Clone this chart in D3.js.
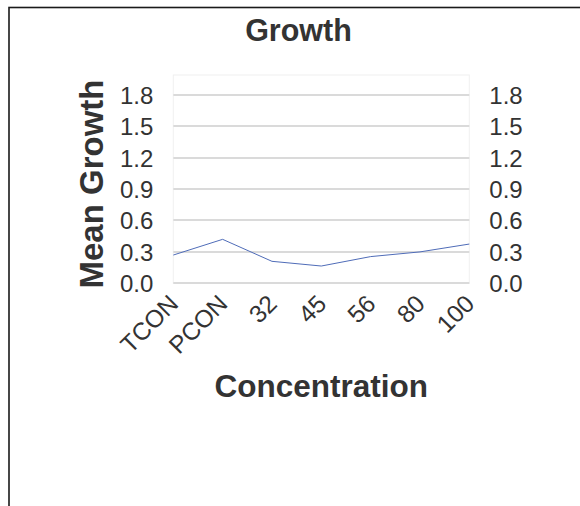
<!DOCTYPE html>
<html><head><meta charset="utf-8">
<script src="https://cdn.jsdelivr.net/npm/d3@7"></script>
<style>html,body{margin:0;padding:0;background:#fff;}svg{display:block;}</style>
</head><body><svg id="c" width="580" height="506"></svg>
<script>
const categories = ["TCON","PCON","32","45","56","80","100"];
const meanGrowth = [0.27, 0.42, 0.21, 0.165, 0.255, 0.30, 0.375];
const yTicks = [0.0, 0.3, 0.6, 0.9, 1.2, 1.5, 1.8];
const chartTitle = "Growth";
const xTitle = "Concentration";
const yTitle = "Mean Growth";

const svg = d3.select("#c");
const font = "'Liberation Sans', Arial, sans-serif";
const L = 173.3, R = 469.3, T = 75, B = 283.3;

// outer frame
svg.append("rect").attr("x",9).attr("y",7.5).attr("width",620).attr("height",620)
  .attr("fill","#fff").attr("stroke","#1a1a1a").attr("stroke-width",1.6);

const x = d3.scalePoint().domain(categories).range([L,R]).padding(0);
const y = d3.scaleLinear().domain([0,1.99]).range([B,T]);

// plot background
svg.append("rect").attr("x",L).attr("y",T).attr("width",R-L).attr("height",B-T)
  .attr("fill","#fff").attr("stroke","#f0f0f0").attr("stroke-width",1);

// gridlines
svg.append("g").selectAll("line").data(yTicks).join("line")
  .attr("x1",L).attr("x2",R).attr("y1",d=>Math.round(y(d))).attr("y2",d=>Math.round(y(d)))
  .attr("stroke","#dadada").attr("stroke-width",2);

// left axis
const la = svg.append("g").attr("transform",`translate(${L-20},0)`)
  .call(d3.axisLeft(y).tickValues(yTicks).tickFormat(d3.format(".1f")).tickSize(0).tickPadding(0));
la.select(".domain").remove();
la.selectAll("text").attr("font-family",font).attr("font-size",24).attr("fill","#333").attr("dy","0.35em");

// right axis
const ra = svg.append("g").attr("transform",`translate(${R+20},0)`)
  .call(d3.axisRight(y).tickValues(yTicks).tickFormat(d3.format(".1f")).tickSize(0).tickPadding(0));
ra.select(".domain").remove();
ra.selectAll("text").attr("font-family",font).attr("font-size",24).attr("fill","#333").attr("dy","0.35em");

// bottom axis
const ba = svg.append("g").attr("transform",`translate(0,${B})`)
  .call(d3.axisBottom(x).tickSize(0).tickPadding(0));
ba.select(".domain").remove();
ba.selectAll("text").attr("font-family",font).attr("font-size",24.5).attr("fill","#333")
  .attr("text-anchor","end").attr("dy",0).attr("y",0)
  .attr("transform","translate(6,22) rotate(-45)");

// line
const line = d3.line().x((d,i)=>x(categories[i])).y(d=>y(d));
svg.append("path").datum(meanGrowth).attr("d",line).attr("fill","none")
  .attr("stroke","#4f6cb8").attr("stroke-width",1);

// titles
svg.append("text").attr("x",298.5).attr("y",41).attr("text-anchor","middle")
  .attr("font-family",font).attr("font-weight","bold").attr("font-size",30.5).attr("fill","#333").text(chartTitle);
svg.append("text").attr("x",(L+R)/2).attr("y",397).attr("text-anchor","middle")
  .attr("font-family",font).attr("font-weight","bold").attr("font-size",31.5).attr("fill","#333").text(xTitle);
svg.append("text").attr("transform",`translate(103,184) rotate(-90)`).attr("text-anchor","middle")
  .attr("font-family",font).attr("font-weight","bold").attr("font-size",33).attr("fill","#333").text(yTitle);
</script></body></html>
